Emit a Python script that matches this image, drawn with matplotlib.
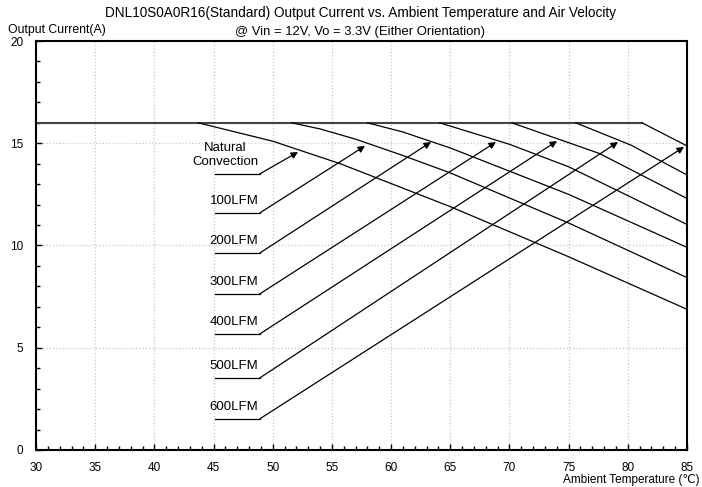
import matplotlib
matplotlib.use("Agg")
import matplotlib.pyplot as plt
from matplotlib.ticker import MultipleLocator

plt.rcParams['font.family'] = ['Liberation Sans', 'DejaVu Sans']

# derating curves: (temperature, current) points for each airflow
flat_t = [30, 81.2]
flat_i = [16, 16]

nc_t = [43.7, 50.0, 55.7, 65.0, 75.0, 85.0]
nc_i = [16.0, 15.1, 14.0, 11.9, 9.45, 6.88]
lfm100_t = [51.6, 54.0, 57.0, 61.0, 65.0, 75.0, 85.0]
lfm100_i = [16.0, 15.7, 15.2, 14.4, 13.55, 11.1, 8.43]
lfm200_t = [58.0, 61.0, 65.0, 75.0, 85.0]
lfm200_i = [16.0, 15.55, 14.77, 12.5, 9.91]
lfm300_t = [64.1, 70.0, 75.0, 85.0]
lfm300_i = [16.0, 14.95, 13.85, 11.03]
lfm400_t = [70.2, 77.6, 85.0]
lfm400_i = [16.0, 14.5, 12.3]
lfm500_t = [75.6, 80.3, 85.0]
lfm500_i = [16.0, 14.9, 13.45]
lfm600_t = [81.2, 85.0]
lfm600_i = [16.0, 14.87]

curves = [(nc_t, nc_i), (lfm100_t, lfm100_i), (lfm200_t, lfm200_i),
          (lfm300_t, lfm300_i), (lfm400_t, lfm400_i), (lfm500_t, lfm500_i),
          (lfm600_t, lfm600_i)]

labels = ["Natural\nConvection", "100LFM", "200LFM", "300LFM", "400LFM", "500LFM", "600LFM"]

# label leader positions (data coords)
lead_x0 = 45.1
lead_x1 = 48.9
lead_y = [13.50, 11.59, 9.63, 7.63, 5.67, 3.52, 1.52]
tip_x = [52.14, 57.80, 63.37, 68.86, 74.02, 79.17, 84.75]
tip_y = [14.57, 14.87, 15.06, 15.06, 15.11, 15.06, 14.82]

fig = plt.figure(figsize=(7.02, 4.87), dpi=100)
ax = fig.add_axes([0.0513, 0.076, 0.9273, 0.8398])

ax.set_xlim(30, 85)
ax.set_ylim(0, 20)

ax.xaxis.set_major_locator(MultipleLocator(5))
ax.xaxis.set_minor_locator(MultipleLocator(1))
ax.yaxis.set_major_locator(MultipleLocator(5))
ax.yaxis.set_minor_locator(MultipleLocator(1))
ax.tick_params(which='both', direction='in', top=False, right=False, labelsize=8.5, width=1)
ax.tick_params(which='major', length=4)
ax.tick_params(which='minor', length=3)
ax.tick_params(axis='x', pad=9)
ax.tick_params(axis='y', pad=9)

for x in range(35, 85, 5):
    ax.axvline(x, color='#c8c8c8', lw=0.9, ls=':', zorder=0)
for y in range(5, 20, 5):
    ax.axhline(y, color='#c8c8c8', lw=0.9, ls=':', zorder=0)

for s in ax.spines.values():
    s.set_linewidth(1.5)

ax.plot(flat_t, flat_i, color='#444444', lw=1.5)
for t, i in curves:
    ax.plot(t, i, color='k', lw=0.9)

for k in range(len(labels)):
    ax.plot([lead_x0, lead_x1], [lead_y[k], lead_y[k]], color='k', lw=0.9)
    ax.annotate('', xy=(tip_x[k], tip_y[k]), xytext=(lead_x1, lead_y[k]),
                arrowprops=dict(arrowstyle='-|>', color='k', lw=0.9,
                                shrinkA=0, shrinkB=0, mutation_scale=10))
    ax.text(lead_x1 - 0.1, lead_y[k] + 0.3, labels[k], ha='right', va='bottom',
            fontsize=9.5, multialignment='center')

fig.text(0.513, 0.973, "DNL10S0A0R16(Standard) Output Current vs. Ambient Temperature and Air Velocity",
         ha='center', va='center', fontsize=9.8)
fig.text(0.513, 0.934, "@ Vin = 12V, Vo = 3.3V (Either Orientation)",
         ha='center', va='center', fontsize=9.4)
fig.text(0.011, 0.938, "Output Current(A)", ha='left', va='center', fontsize=8.8)
fig.text(0.997, 0.015, "Ambient Temperature (℃)", ha='right', va='center', fontsize=8.5)

fig.savefig("out.png", dpi=100)
